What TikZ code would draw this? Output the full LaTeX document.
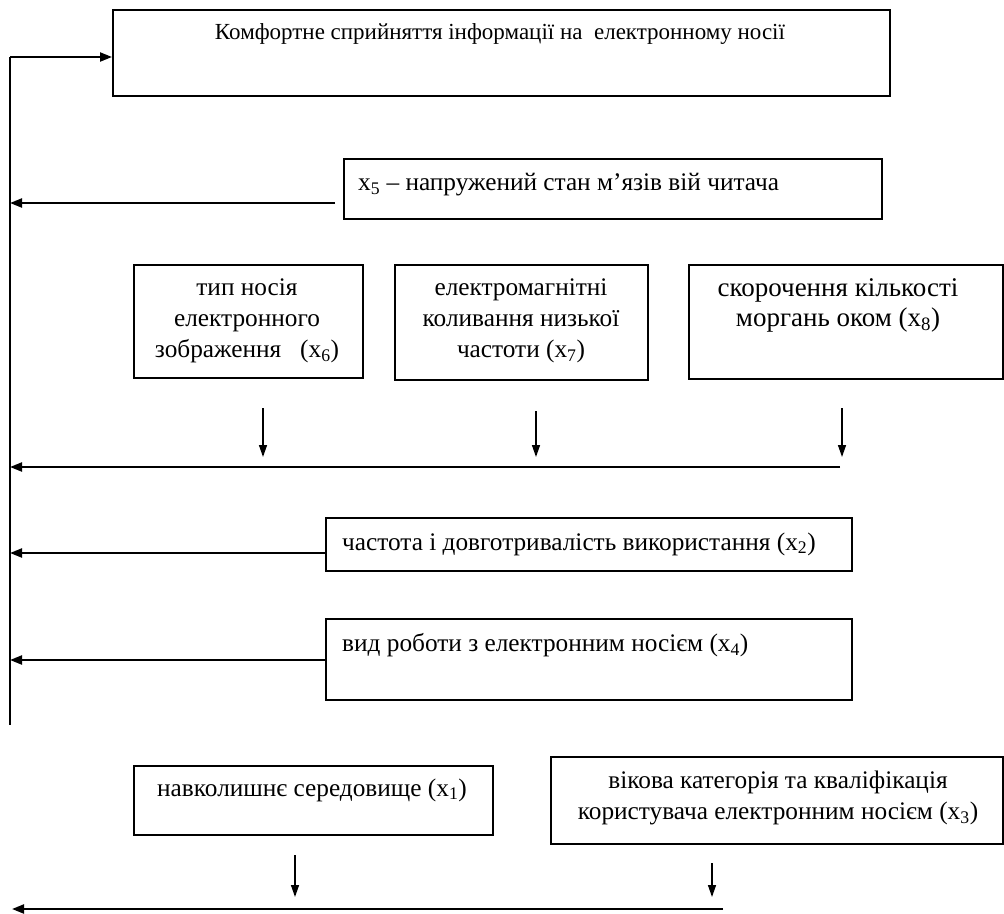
\documentclass[tikz,border=0pt]{standalone}
\usepackage{fontspec}
\setmainfont{Liberation Serif}
\usetikzlibrary{arrows.meta,calc}
\begin{document}
\begin{tikzpicture}[x=1pt,y=-1pt,
  box/.style={draw,line width=1.8pt,inner sep=0pt,anchor=north west},
  txt/.style={font=\fontsize{25.3}{31}\selectfont,inner sep=0pt,align=center},
  arr/.style={line width=2.2pt,-{Triangle[length=12pt,width=9pt]}},
  darr/.style={line width=1.4pt,-{Triangle[length=12pt,width=8pt]}},
  vline/.style={line width=1.5pt}]
\useasboundingbox (0,0) rectangle (1004,913);
% boxes
\node[box,minimum width=777pt,minimum height=86pt] (top) at (112,9) {};
\node[txt,font=\fontsize{23}{29}\selectfont] (toptxt) at (500,34) {Комфортне сприйняття інформації на \ електронному носії};
\node[box,minimum width=538pt,minimum height=60pt] (x5) at (343,158) {};
\node[txt,anchor=west] (x5txt) at (358,185) {x\textsubscript{5} – напружений стан м’язів вій читача};
\node[box,minimum width=229pt,minimum height=113pt] (x6) at (133,264) {};
\node[txt] (x6txt) at (247,321) {тип носія\\електронного\\зображення \ \ (x\textsubscript{6})};
\node[box,minimum width=253pt,minimum height=115pt] (x7) at (394,264) {};
\node[txt] (x7txt) at (521,321) {електромагнітні\\коливання низької\\частоти (x\textsubscript{7})};
\node[box,minimum width=314pt,minimum height=114pt] (x8) at (688,264) {};
\node[txt,font=\fontsize{27}{30}\selectfont] (x8txt) at (838,305) {скорочення кількості\\моргань оком (x\textsubscript{8})};
\node[box,minimum width=526pt,minimum height=53pt] (x2) at (325,517) {};
\node[txt,anchor=west] (x2txt) at (342,544) {частота і довготривалість використання (x\textsubscript{2})};
\node[box,minimum width=526pt,minimum height=81pt] (x4) at (325,618) {};
\node[txt,anchor=west] (x4txt) at (342,645) {вид роботи з електронним носієм (x\textsubscript{4})};
\node[box,minimum width=359pt,minimum height=69pt] (x1) at (133,765) {};
\node[txt] (x1txt) at (312,790) {навколишнє середовище (x\textsubscript{1})};
\node[box,minimum width=452pt,minimum height=87pt] (x3) at (550,756) {};
\node[txt] (x3txt) at (778,798) {вікова категорія та кваліфікація\\користувача електронним носієм (x\textsubscript{3})};
% main vertical line
\coordinate (vtop) at (10,57);
\coordinate (vbot) at (10,725);
\draw[vline] (vtop) -- (vbot);
\draw[arr] (vtop) -- (top.west |- vtop);
% x5
\coordinate (a5) at (335,203);
\draw[arr] (a5) -- (vtop |- a5);
% three boxes
\coordinate (h1) at (840,467);
\draw[arr] (h1) -- (vtop |- h1);
\coordinate (d6) at (263,408);
\coordinate (d7) at (536,411);
\coordinate (d8) at (842,408);
\draw[darr] (d6) -- ($(d6 |- h1)+(0,-10)$);
\draw[darr] (d7) -- ($(d7 |- h1)+(0,-10)$);
\draw[darr] (d8) -- ($(d8 |- h1)+(0,-10)$);
% x2, x4
\coordinate (a2) at (325,553);
\draw[arr] (a2) -- (vtop |- a2);
\coordinate (a4) at (325,660);
\draw[arr] (a4) -- (vtop |- a4);
% bottom
\coordinate (h2) at (723,909);
\coordinate (hend) at (12,909);
\draw[arr] (h2) -- (hend);
\coordinate (d1) at (295,855);
\coordinate (d3) at (712,863);
\draw[darr] (d1) -- ($(d1 |- h2)+(0,-12)$);
\draw[darr] (d3) -- ($(d3 |- h2)+(0,-12)$);
\end{tikzpicture}
\end{document}
